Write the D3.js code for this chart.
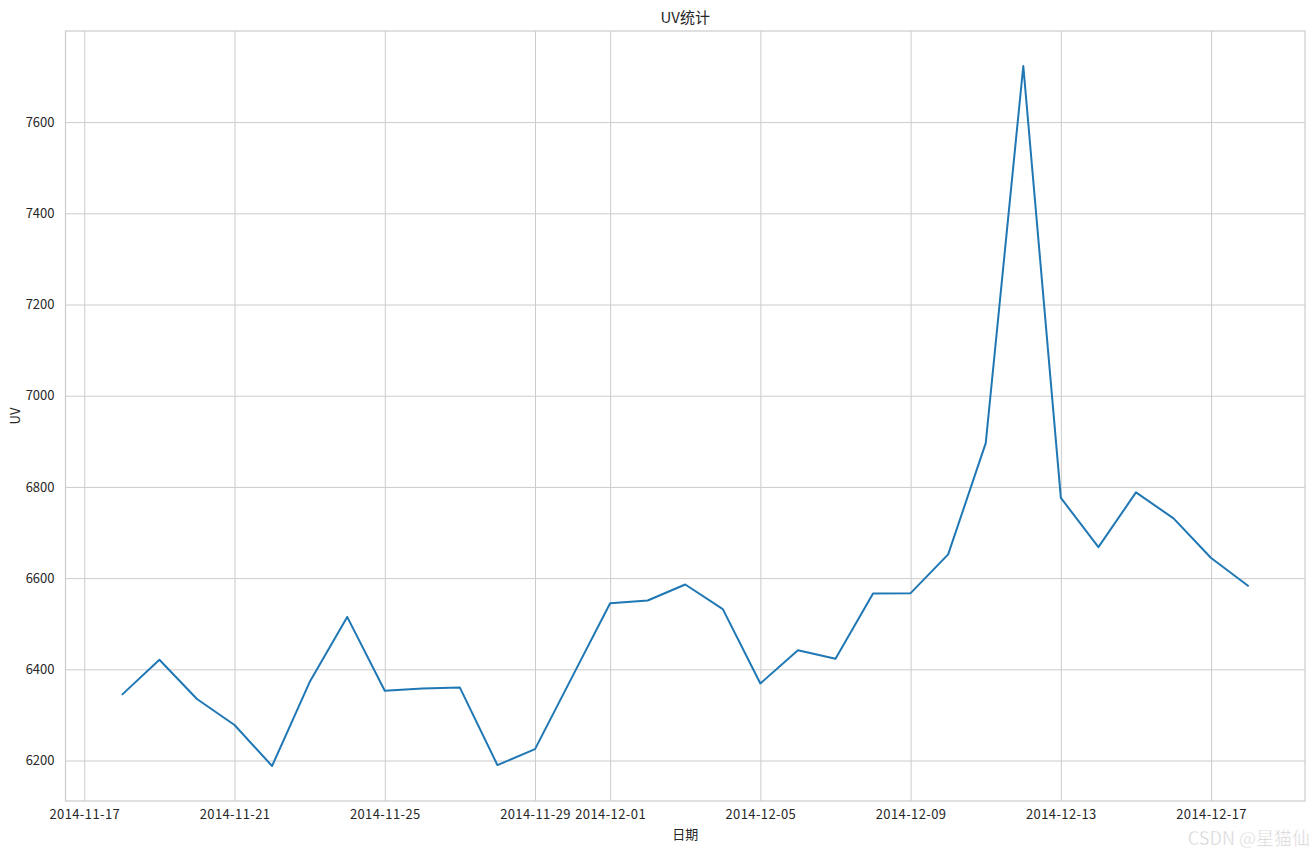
<!DOCTYPE html>
<html>
<head>
<meta charset="utf-8">
<script src="https://cdn.jsdelivr.net/npm/d3@7"></script>
<style>
  body { margin: 0; background: #fff; }
  text { font-family: "Noto Sans CJK SC", "DejaVu Sans", sans-serif; fill: #262626; }
</style>
</head>
<body>
<svg id="chart" width="1315" height="851"></svg>
<script>
// data
const dates = [
  '2014-11-18','2014-11-19','2014-11-20','2014-11-21','2014-11-22','2014-11-23','2014-11-24',
  '2014-11-25','2014-11-26','2014-11-27','2014-11-28','2014-11-29','2014-11-30','2014-12-01',
  '2014-12-02','2014-12-03','2014-12-04','2014-12-05','2014-12-06','2014-12-07','2014-12-08',
  '2014-12-09','2014-12-10','2014-12-11','2014-12-12','2014-12-13','2014-12-14','2014-12-15',
  '2014-12-16','2014-12-17','2014-12-18'
];
const uv = [
  6344, 6421, 6335, 6278, 6188, 6372, 6515,
  6353, 6358, 6360, 6190, 6225, 6385, 6545,
  6551, 6586, 6532, 6369, 6442, 6423, 6566,
  6567, 6652, 6896, 7723, 6776, 6668, 6788,
  6731, 6644, 6582
];
const xTicks = ['2014-11-17','2014-11-21','2014-11-25','2014-11-29','2014-12-01','2014-12-05','2014-12-09','2014-12-13','2014-12-17'];
const yTicks = [6200, 6400, 6600, 6800, 7000, 7200, 7400, 7600];

const parse = d3.timeParse('%Y-%m-%d');
const data = dates.map((d, i) => ({ date: parse(d), value: uv[i] }));

const mLeft = 65.5, mRight = 1305, mTop = 31, mBottom = 801;
const svg = d3.select('#chart');

// matplotlib style 5% margins
const xExt = d3.extent(data, d => d.date);
const xPad = (xExt[1] - xExt[0]) * 0.05;
const x = d3.scaleTime()
  .domain([new Date(+xExt[0] - xPad), new Date(+xExt[1] + xPad)])
  .range([mLeft, mRight]);

const yExt = d3.extent(uv);
const yPad = (yExt[1] - yExt[0]) * 0.05;
const y = d3.scaleLinear()
  .domain([yExt[0] - yPad, yExt[1] + yPad])
  .range([mBottom, mTop]);

// grid
const gx = svg.append('g')
  .attr('transform', `translate(0,${mBottom})`)
  .call(d3.axisBottom(x).tickValues(xTicks.map(parse)).tickFormat(d3.timeFormat('%Y-%m-%d')).tickSize(-(mBottom - mTop)).tickPadding(9));
gx.select('.domain').remove();
gx.selectAll('line').attr('stroke', '#cccccc').attr('stroke-width', 1);
gx.selectAll('text').attr('font-size', 13).attr('letter-spacing', 0.4).attr('fill', '#262626');

const gy = svg.append('g')
  .attr('transform', `translate(${mLeft},0)`)
  .call(d3.axisLeft(y).tickValues(yTicks).tickFormat(d3.format('d')).tickSize(-(mRight - mLeft)).tickPadding(11));
gy.select('.domain').remove();
gy.selectAll('line').attr('stroke', '#cccccc').attr('stroke-width', 1);
gy.selectAll('text').attr('font-size', 13).attr('fill', '#262626');

// spines
svg.append('rect')
  .attr('x', mLeft).attr('y', mTop)
  .attr('width', mRight - mLeft).attr('height', mBottom - mTop)
  .attr('fill', 'none').attr('stroke', '#cccccc').attr('stroke-width', 1.2);

// line
const line = d3.line().x(d => x(d.date)).y(d => y(d.value));
svg.append('path')
  .datum(data)
  .attr('d', line)
  .attr('fill', 'none')
  .attr('stroke', '#1f77b4')
  .attr('stroke-width', 2)
  .attr('stroke-linejoin', 'round');

// labels
svg.append('text')
  .attr('x', (mLeft + mRight) / 2).attr('y', 23)
  .attr('text-anchor', 'middle').attr('font-size', 15)
  .text('UV统计');

svg.append('text')
  .attr('x', (mLeft + mRight) / 2).attr('y', 839)
  .attr('text-anchor', 'middle').attr('font-size', 13)
  .text('日期');

svg.append('text')
  .attr('transform', `translate(20,${(mTop + mBottom) / 2}) rotate(-90)`)
  .attr('text-anchor', 'middle').attr('font-size', 13)
  .text('UV');

// watermark, kept just below the tick labels
svg.append('text')
  .attr('x', 1310).attr('y', 845)
  .attr('text-anchor', 'end').attr('font-size', 18)
  .style('fill', '#d0d0d0')
  .attr('stroke', '#ffffff').attr('stroke-width', 0.5)
  .text('CSDN @星猫仙');
</script>
</body>
</html>
